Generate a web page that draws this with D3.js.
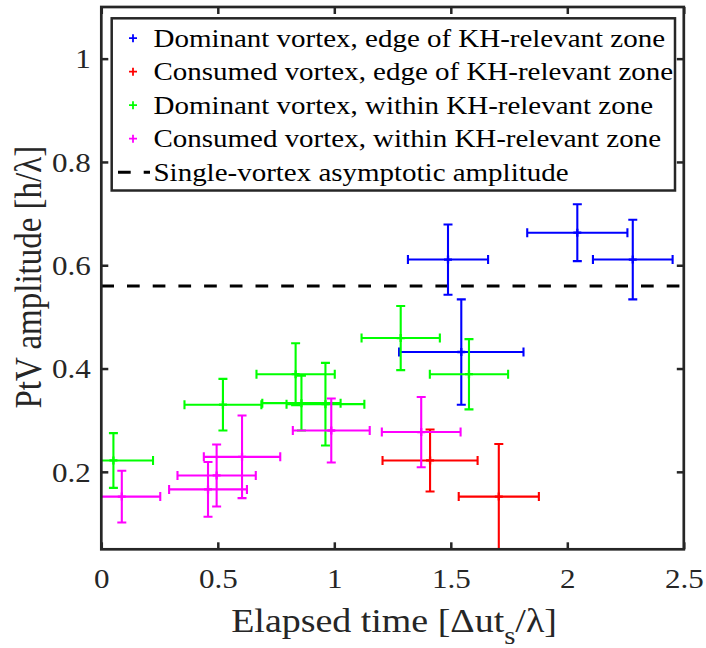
<!DOCTYPE html>
<html>
<head>
<meta charset="utf-8">
<script src="https://cdn.jsdelivr.net/npm/d3@7"></script>
<style>
  html, body { margin: 0; padding: 0; background: #fff; }
  svg { display: block; }
</style>
</head>
<body>
<div id="chart"></div>
<script>
// ---- data ----
const xTicks = [0, 0.5, 1, 1.5, 2, 2.5];
const xTickLabels = ["0", "0.5", "1", "1.5", "2", "2.5"];
const yTicks = [0.2, 0.4, 0.6, 0.8, 1];
const yTickLabels = ["0.2", "0.4", "0.6", "0.8", "1"];

const seriesNames = [
  "Dominant vortex, edge of KH-relevant zone",
  "Consumed vortex, edge of KH-relevant zone",
  "Dominant vortex, within KH-relevant zone",
  "Consumed vortex, within KH-relevant zone"
];
const seriesColors = ["#0000ff", "#ff0000", "#00ff00", "#ff00ff"];

const blueX    = [1.488, 2.043, 2.281, 1.545];
const blueY    = [0.611, 0.663, 0.611, 0.432];
const blueXErr = [0.172, 0.215, 0.171, 0.267];
const blueYErr = [0.068, 0.055, 0.077, 0.102];

const redX    = [1.411, 1.706];
const redY    = [0.222, 0.152];
const redXErr = [0.204, 0.172];
const redYErr = [0.060, 0.102];

const greenX    = [0.052, 0.522, 0.834, 0.859, 0.962, 1.285, 1.578];
const greenY    = [0.222, 0.330, 0.389, 0.333, 0.331, 0.459, 0.389];
const greenXErr = [0.170, 0.165, 0.168, 0.168, 0.167, 0.168, 0.168];
const greenYErr = [0.053, 0.050, 0.060, 0.053, 0.080, 0.062, 0.068];

const magX    = [0.088, 0.458, 0.495, 0.604, 0.987, 1.373];
const magY    = [0.152, 0.166, 0.193, 0.229, 0.280, 0.277];
const magXErr = [0.165, 0.167, 0.168, 0.164, 0.165, 0.169];
const magYErr = [0.050, 0.053, 0.060, 0.080, 0.062, 0.068];

const asymptoteValue = 0.56;
const asymptoteLabel = "Single-vortex asymptotic amplitude";
const xLabelParts = ["Elapsed time [\u0394ut", "s", "/\u03bb]"];
const yLabel = "PtV amplitude [h/\u03bb]";

// ---- layout ----
const W = 706, H = 648;
const pL = 101.3, pR = 683.8, pT = 7, pB = 549.3;
const SX = 1.15;            // horizontal text stretch seen in the reference
const axisColor = "#262626";
const FONT = "'Liberation Serif', 'Times New Roman', Times, serif";

const x = d3.scaleLinear().domain([0, 2.5]).range([pL, pR]);
const y = d3.scaleLinear().domain([0.05, 1.1]).range([pB, pT]);

const svg = d3.select("#chart").append("svg")
  .attr("width", W).attr("height", H);

svg.append("defs").append("clipPath").attr("id", "plotclip")
  .append("rect").attr("x", pL).attr("y", pT)
  .attr("width", pR - pL).attr("height", pB - pT);

const plot = svg.append("g").attr("clip-path", "url(#plotclip)");

// asymptote line
plot.append("line")
  .attr("x1", x(0)).attr("x2", x(2.5))
  .attr("y1", y(asymptoteValue)).attr("y2", y(asymptoteValue))
  .attr("stroke", "#000").attr("stroke-width", 3)
  .attr("stroke-dasharray", "12.7,13");

// error bar series
const series = [
  {x: blueX, y: blueY, xe: blueXErr, ye: blueYErr},
  {x: redX, y: redY, xe: redXErr, ye: redYErr},
  {x: greenX, y: greenY, xe: greenXErr, ye: greenYErr},
  {x: magX, y: magY, xe: magXErr, ye: magYErr}
];
const cap = 4.5, mk = 4;
series.forEach((s, si) => {
  const col = seriesColors[si];
  const g = plot.append("g").attr("stroke", col).attr("stroke-width", 2.1).attr("fill", "none");
  const pts = s.x.map((v, i) => ({x: v, y: s.y[i], xe: s.xe[i], ye: s.ye[i]}));
  const pg = g.selectAll("g.pt").data(pts).join("g").attr("class", "pt");
  pg.append("path").attr("d", d => {
    const cx = x(d.x), cy = y(d.y);
    const x0 = x(d.x - d.xe), x1 = x(d.x + d.xe);
    const y0 = y(d.y - d.ye), y1 = y(d.y + d.ye);
    return `M${x0},${cy}H${x1}` +
      `M${x0},${cy - cap}V${cy + cap}M${x1},${cy - cap}V${cy + cap}` +
      `M${cx},${y0}V${y1}` +
      `M${cx - cap},${y0}H${cx + cap}M${cx - cap},${y1}H${cx + cap}`;
  });
  pg.append("path").attr("stroke-width", 2.3).attr("d", d => {
    const cx = x(d.x), cy = y(d.y);
    return `M${cx - mk},${cy}H${cx + mk}M${cx},${cy - mk}V${cy + mk}`;
  });
});

// ---- axes ----
const tickLen = 7;
const gx = svg.append("g").attr("transform", `translate(0,${pB})`)
  .call(d3.axisBottom(x).tickValues(xTicks).tickFormat((d, i) => xTickLabels[i])
    .tickSizeInner(-tickLen).tickSizeOuter(0));
gx.select(".domain").remove();
gx.selectAll(".tick line").attr("stroke", axisColor).attr("stroke-width", 2.5);
gx.selectAll(".tick text")
  .attr("y", 0).attr("dy", null)
  .attr("transform", `translate(0,39) scale(${SX},1)`)
  .attr("fill", axisColor).attr("font-size", 27)
  .style("font-family", FONT);

const gy = svg.append("g").attr("transform", `translate(${pL},0)`)
  .call(d3.axisLeft(y).tickValues(yTicks).tickFormat((d, i) => yTickLabels[i])
    .tickSizeInner(-tickLen).tickSizeOuter(0));
gy.select(".domain").remove();
gy.selectAll(".tick line").attr("stroke", axisColor).attr("stroke-width", 2.5);
gy.selectAll(".tick text")
  .attr("x", 0).attr("dy", "0.34em")
  .attr("transform", `translate(-10.6,0) scale(${SX},1)`)
  .attr("fill", axisColor).attr("font-size", 27)
  .style("font-family", FONT);

const gt = svg.append("g").attr("transform", `translate(0,${pT})`)
  .call(d3.axisTop(x).tickValues(xTicks).tickFormat("").tickSizeInner(-tickLen).tickSizeOuter(0));
gt.select(".domain").remove();
gt.selectAll(".tick line").attr("stroke", axisColor).attr("stroke-width", 2.5);

const gr = svg.append("g").attr("transform", `translate(${pR},0)`)
  .call(d3.axisRight(y).tickValues(yTicks).tickFormat("").tickSizeInner(-tickLen).tickSizeOuter(0));
gr.select(".domain").remove();
gr.selectAll(".tick line").attr("stroke", axisColor).attr("stroke-width", 2.5);

// frame
svg.append("rect")
  .attr("x", pL).attr("y", pT).attr("width", pR - pL).attr("height", pB - pT)
  .attr("fill", "none").attr("stroke", axisColor).attr("stroke-width", 2.7);

// axis labels
const xl = svg.append("text")
  .attr("transform", `translate(${(pL + pR) / 2 + 1.5},631.7) scale(${SX},1)`)
  .attr("text-anchor", "middle").attr("font-size", 33).attr("fill", axisColor)
  .style("font-family", FONT);
xl.append("tspan").text(xLabelParts[0]);
xl.append("tspan").attr("font-size", 25).attr("dy", 12).text(xLabelParts[1]);
xl.append("tspan").attr("dy", -12).text(xLabelParts[2]);

svg.append("text")
  .attr("transform", `translate(40.7,${(pT + pB) / 2 - 1}) rotate(-90) scale(1,${SX})`)
  .attr("text-anchor", "middle").attr("font-size", 33).attr("fill", axisColor)
  .style("font-family", FONT)
  .text(yLabel);

// ---- legend ----
const lg = svg.append("g");
lg.append("rect")
  .attr("x", 111.7).attr("y", 18.3).attr("width", 675 - 111.7).attr("height", 190.5 - 18.3)
  .attr("fill", "#fff").attr("stroke", axisColor).attr("stroke-width", 2.5);
const rowBase = 46.7, rowStep = 33.5;
const legendItems = seriesNames.map((n, i) => ({name: n, color: seriesColors[i], dashed: false}))
  .concat([{name: asymptoteLabel, color: "#000", dashed: true}]);
legendItems.forEach((it, i) => {
  const by = rowBase + i * rowStep;
  const cy = by - 8.5;
  if (it.dashed) {
    lg.append("line").attr("x1", 118).attr("x2", 150).attr("y1", cy).attr("y2", cy)
      .attr("stroke", "#000").attr("stroke-width", 3).attr("stroke-dasharray", "12.7,13");
  } else {
    lg.append("path")
      .attr("d", `M${133 - 4},${cy}H${133 + 4}M133,${cy - 4}V${cy + 4}`)
      .attr("stroke", it.color).attr("stroke-width", 1.8).attr("fill", "none");
  }
  lg.append("text")
    .attr("transform", `translate(153.5,${by}) scale(${SX},1)`)
    .attr("font-size", 25.2).attr("fill", "#000")
    .style("font-family", FONT)
    .text(it.name);
});
</script>
</body>
</html>
